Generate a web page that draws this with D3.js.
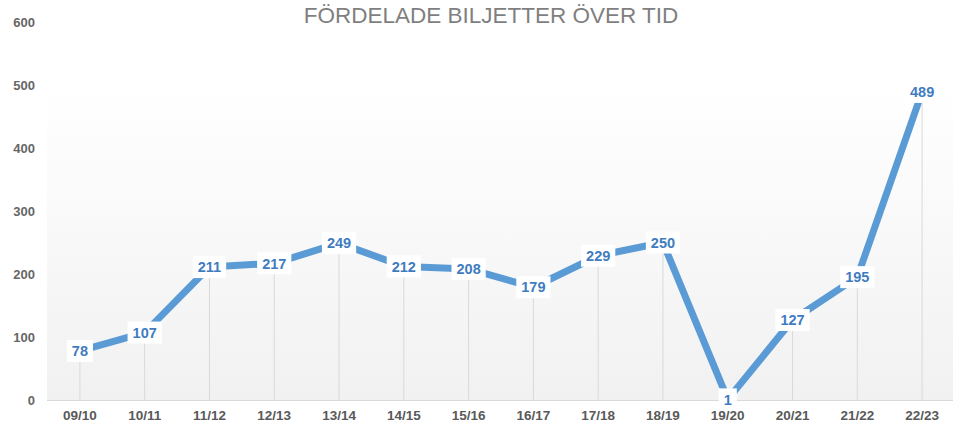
<!DOCTYPE html>
<html>
<head>
<meta charset="utf-8">
<script src="https://cdn.jsdelivr.net/npm/d3@7"></script>
<style>
  body { margin: 0; background: #fff; font-family: "Liberation Sans", Arial, sans-serif; }
</style>
</head>
<body>
<div id="chart"></div>
<script>
var seasons = ["09/10", "10/11", "11/12", "12/13", "13/14", "14/15", "15/16", "16/17", "17/18", "18/19", "19/20", "20/21", "21/22", "22/23"];
var tickets = [78, 107, 211, 217, 249, 212, 208, 179, 229, 250, 1, 127, 195, 489];
var yTicks = [0, 100, 200, 300, 400, 500, 600];

var width = 953, height = 423;
var margin = { top: 22, right: 0, bottom: 23, left: 47 };

var svg = d3.select("#chart")
  .append("svg")
  .attr("width", width)
  .attr("height", height);

var x = d3.scaleBand()
  .domain(seasons)
  .range([margin.left + 0.5, width + 1.5]);

var y = d3.scaleLinear()
  .domain([0, 600])
  .range([height - margin.bottom, margin.top]);

// plot background
var defs = svg.append("defs");
var grad = defs.append("linearGradient")
  .attr("id", "bg")
  .attr("x1", 0).attr("y1", 0).attr("x2", 0).attr("y2", 1);
grad.append("stop").attr("offset", "0%").attr("stop-color", "#ffffff");
grad.append("stop").attr("offset", "100%").attr("stop-color", "#f1f1f1");

svg.append("rect")
  .attr("x", margin.left)
  .attr("y", y(500) + 2)
  .attr("width", width - margin.left)
  .attr("height", y(0) - y(500) - 2)
  .style("fill", "url(#bg)");

// title
svg.append("text")
  .attr("x", 491)
  .attr("y", 23)
  .attr("text-anchor", "middle")
  .style("font-size", "22.5px")
  .style("fill", "#7f7f7f")
  .text("FÖRDELADE BILJETTER ÖVER TID");

// y axis labels
svg.selectAll(".ytick")
  .data(yTicks)
  .enter()
  .append("text")
  .attr("class", "ytick")
  .attr("x", 35)
  .attr("y", function(d) { return y(d); })
  .attr("dy", "0.35em")
  .attr("text-anchor", "end")
  .style("font-size", "13px")
  .style("font-weight", "bold")
  .style("fill", "#666")
  .text(function(d) { return d; });

// drop lines
svg.selectAll(".drop")
  .data(tickets)
  .enter()
  .append("line")
  .attr("class", "drop")
  .attr("x1", function(d, i) { return x(seasons[i]) + x.bandwidth() / 2; })
  .attr("x2", function(d, i) { return x(seasons[i]) + x.bandwidth() / 2; })
  .attr("y1", function(d) { return y(d); })
  .attr("y2", y(0))
  .style("stroke", "#d9d9d9")
  .style("stroke-width", 1);

// baseline
svg.append("line")
  .attr("x1", margin.left)
  .attr("x2", width)
  .attr("y1", y(0) + 0.5)
  .attr("y2", y(0) + 0.5)
  .style("stroke", "#d9d9d9")
  .style("stroke-width", 1);

// x axis labels
svg.selectAll(".xtick")
  .data(seasons)
  .enter()
  .append("text")
  .attr("class", "xtick")
  .attr("x", function(d) { return x(d) + x.bandwidth() / 2; })
  .attr("y", y(0) + 20)
  .attr("text-anchor", "middle")
  .style("font-size", "13.5px")
  .style("font-weight", "bold")
  .style("fill", "#595959")
  .text(function(d) { return d; });

// line
var line = d3.line()
  .x(function(d, i) { return x(seasons[i]) + x.bandwidth() / 2; })
  .y(function(d) { return y(d); });

svg.append("path")
  .datum(tickets)
  .attr("d", line)
  .style("fill", "none")
  .style("stroke", "#5b9bd5")
  .style("stroke-width", 7)
  .style("stroke-linejoin", "round");

// value labels
var labels = svg.selectAll(".lbl")
  .data(tickets)
  .enter()
  .append("g")
  .attr("class", "lbl")
  .attr("transform", function(d, i) {
    return "translate(" + (x(seasons[i]) + x.bandwidth() / 2) + "," + y(d) + ")";
  });

labels.append("text")
  .attr("text-anchor", "middle")
  .attr("dy", "0.36em")
  .style("font-size", "14.5px")
  .style("font-weight", "bold")
  .style("fill", "#3f7cbf")
  .text(function(d) { return d; });

labels.each(function() {
  var g = d3.select(this);
  var bb = g.select("text").node().getBBox();
  g.insert("rect", "text")
    .attr("x", bb.x - 5)
    .attr("y", -11)
    .attr("width", bb.width + 10)
    .attr("height", 22)
    .style("fill", "#fff");
});
</script>
</body>
</html>
